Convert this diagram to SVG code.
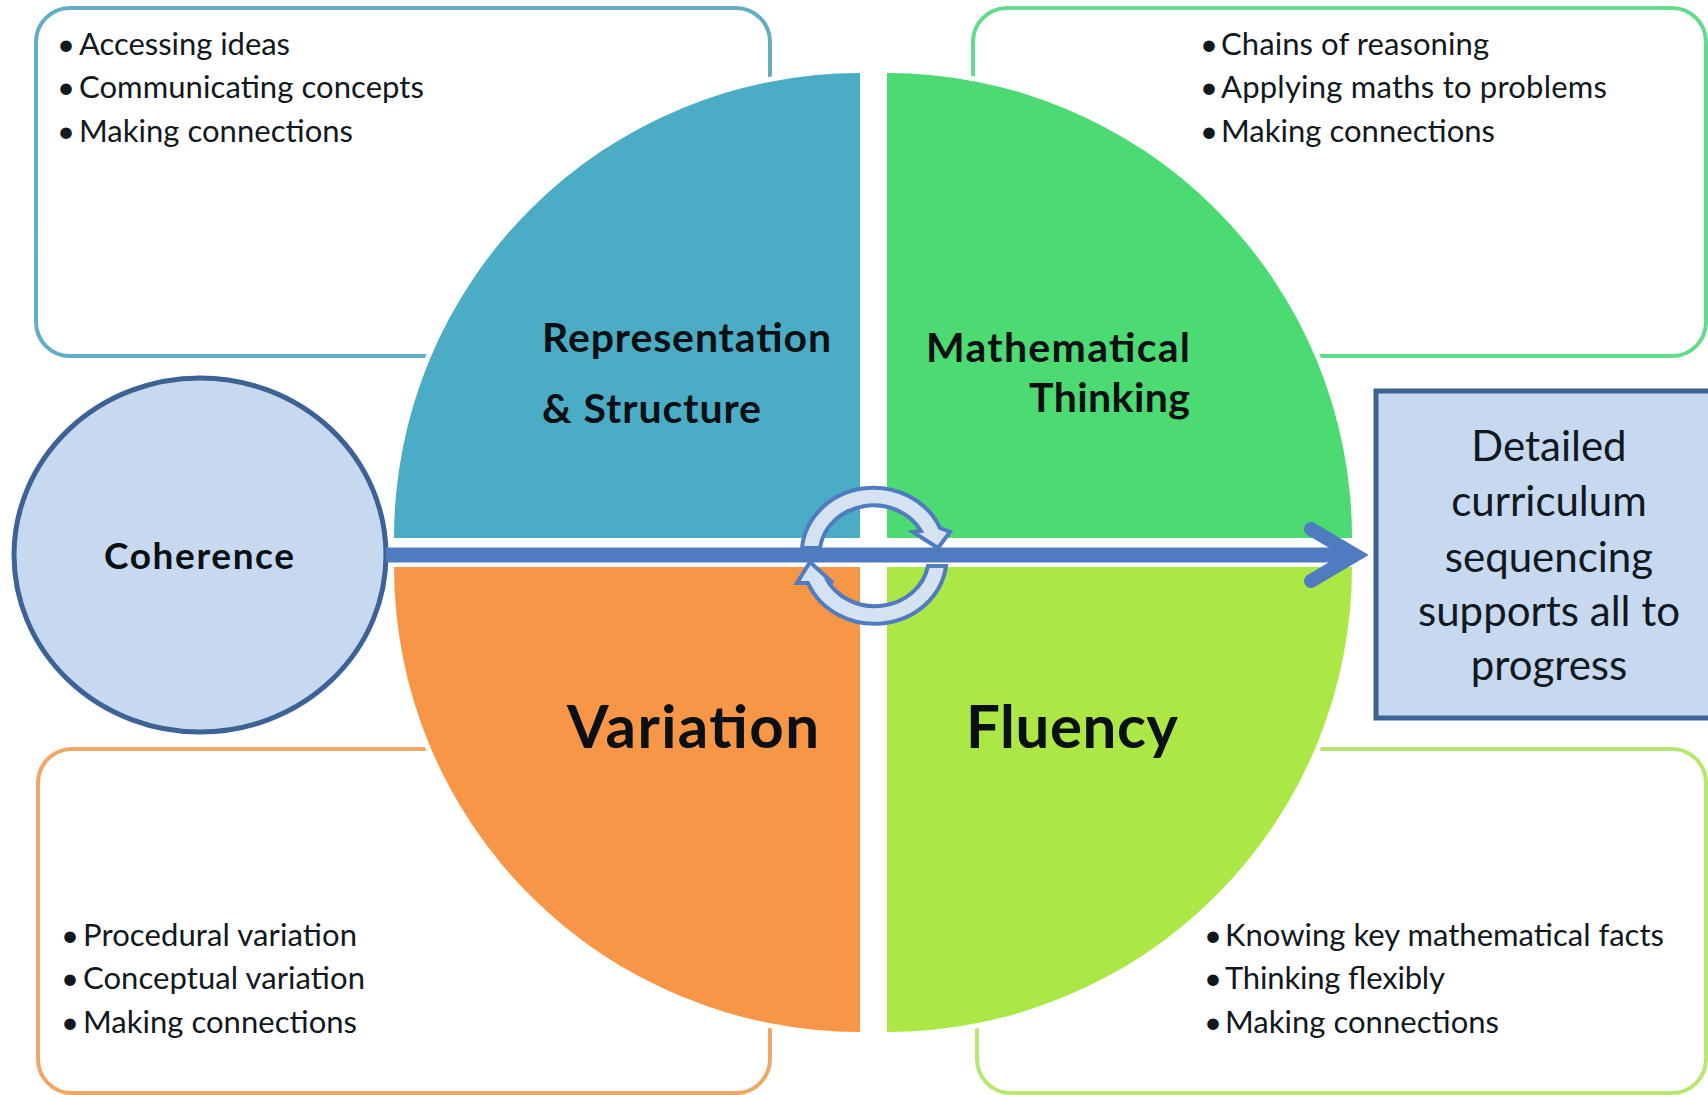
<svg xmlns="http://www.w3.org/2000/svg" width="1708" height="1095" viewBox="0 0 1708 1095">
<style>
text{font-family:Lato,"Liberation Sans",sans-serif;fill:#111820}
.li{font-size:31px}
.h{font-size:41px;font-weight:700;fill:#0a0f14}
.hb{font-size:60px;font-weight:700;fill:#0a0f14}
.m{font-size:42px;fill:#14202e}
.box{fill:#fff;stroke-width:4}
.q{stroke:#fff;stroke-width:10;paint-order:stroke}
</style>
<defs>
<marker id="head" markerUnits="userSpaceOnUse" markerWidth="80" markerHeight="80" viewBox="0 0 80 80" refX="62" refY="40" orient="auto" overflow="visible">
<path d="M18,14 L62,40 L18,66" fill="none" stroke="#4F7CC0" stroke-width="14" stroke-linecap="round" stroke-linejoin="miter"/>
</marker>
</defs>
<rect width="1708" height="1095" fill="#fff"/>
<g id="box-representation"><rect class="box" x="36" y="8" width="734" height="348" rx="34" stroke="#62AEC8"/>
<text class="li" x="57" y="55">•<tspan x="79" textLength="211">Accessing ideas</tspan></text>
<text class="li" x="57" y="98">•<tspan x="79" textLength="345">Communicating concepts</tspan></text>
<text class="li" x="57" y="142">•<tspan x="79" textLength="274">Making connections</tspan></text></g>
<g id="box-thinking"><rect class="box" x="973" y="8" width="733" height="348" rx="34" stroke="#62DB8C"/>
<text class="li" x="1200" y="55">•<tspan x="1221" textLength="268">Chains of reasoning</tspan></text>
<text class="li" x="1200" y="98">•<tspan x="1221" textLength="386">Applying maths to problems</tspan></text>
<text class="li" x="1200" y="142">•<tspan x="1221" textLength="274">Making connections</tspan></text></g>
<g id="box-variation"><rect class="box" x="38" y="749" width="732" height="344" rx="34" stroke="#EFA766"/>
<text class="li" x="61" y="946">•<tspan x="83" textLength="274">Procedural variation</tspan></text>
<text class="li" x="61" y="989">•<tspan x="83" textLength="282">Conceptual variation</tspan></text>
<text class="li" x="61" y="1033">•<tspan x="83" textLength="274">Making connections</tspan></text></g>
<g id="box-fluency"><rect class="box" x="977" y="749" width="729" height="344" rx="34" stroke="#B7E76E"/>
<text class="li" x="1204" y="946">•<tspan x="1225" textLength="439">Knowing key mathematical facts</tspan></text>
<text class="li" x="1204" y="989">•<tspan x="1225" textLength="220">Thinking flexibly</tspan></text>
<text class="li" x="1204" y="1033">•<tspan x="1225" textLength="274">Making connections</tspan></text></g>
<g id="quadrant-representation"><path class="q" d="M860,73 V538 H394 A466,465 0 0 1 860,73 Z" fill="#4BACC6"/>
<text class="h" x="542" y="352" textLength="289">Representation</text>
<text class="h" x="542" y="423" textLength="219">&amp; Structure</text></g>
<g id="quadrant-thinking"><path class="q" d="M887,73 V538 H1352 A465,465 0 0 0 887,73 Z" fill="#4BDB72"/>
<text class="h" x="926" y="362" textLength="264">Mathematical</text>
<text class="h" x="1029" y="412" textLength="161">Thinking</text></g>
<g id="quadrant-variation"><path class="q" d="M860,567 V1032 A466,465 0 0 1 394,567 Z" fill="#F79646"/>
<text class="hb" x="567" y="748" textLength="252">Variation</text></g>
<g id="quadrant-fluency"><path class="q" d="M887,567 V1032 A465,465 0 0 0 1352,567 Z" fill="#ABE845"/>
<text class="hb" x="966" y="748" textLength="212">Fluency</text></g>
<g id="coherence"><ellipse cx="200" cy="555" rx="186" ry="177" fill="#C6D9F1" stroke="#3C6296" stroke-width="5"/>
<text x="104" y="569" font-size="37" font-weight="700" textLength="190" style="fill:#0a0f14">Coherence</text></g>
<g id="curriculum"><rect x="1376" y="391" width="340" height="327" fill="#C6D9F1" stroke="#3C6296" stroke-width="5"/>
<g class="m" text-anchor="middle">
<text x="1549" y="461">Detailed</text>
<text x="1549" y="516">curriculum</text>
<text x="1549" y="572">sequencing</text>
<text x="1549" y="626">supports all to</text>
<text x="1549" y="680">progress</text></g></g>
<g id="cycle" fill="#D5E2F2" stroke="#4F7CC0" stroke-width="4" stroke-linejoin="miter">
<path d="M802,548 A72,66 0 0 1 940,528 L950,532 L938,548 L913,532 L921,531 A54,49 0 0 0 820,548 Z"/>
<path d="M946,566 A72,66 0 0 1 808,583 L797,583 L810,562 L833,583 L826,578 A54,49 0 0 0 928,566 Z"/>
</g>
<g id="connectors">
<line x1="386" y1="555" x2="1355" y2="555" stroke="#4F7CC0" stroke-width="15" marker-end="url(#head)"/>
</g>
</svg>
